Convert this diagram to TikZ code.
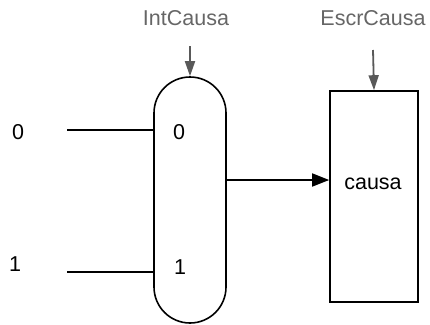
\documentclass[tikz,border=0pt]{standalone}
\usepackage{fontspec}
\setmainfont{Liberation Sans}
\usetikzlibrary{arrows.meta}

\tikzset{
  ctl/.style={text=black!60},
  ctlarrow/.style={black!65,line width=1.8pt,-{Triangle[length=15pt,width=10pt]}},
  wire/.style={line width=1.6pt},
}

\begin{document}
\begin{tikzpicture}[x=1pt,y=-1pt,font=\fontsize{21.5}{24}\selectfont]
  \useasboundingbox (0,0) rectangle (430,324);
  \node[draw,wire,rounded corners=36pt,minimum width=72pt,minimum height=246pt] (mux) at (190,200) {};
  \node[draw,wire,minimum width=88pt,minimum height=211pt] (reg) at (374,196.5) {};
  \node (reglbl) at (373,184) {causa};
  \node (lbl0) at (18,132) {0};
  \node (lbl1) at (15,264) {1};
  \node (mux0) at (179,132) {0};
  \node (mux1) at (180,267) {1};
  \coordinate (in0) at (67,130);
  \coordinate (in1) at (67,272);
  \coordinate (out) at (0,180);
  \draw[wire] (in0) -- (in0 -| mux.west);
  \draw[wire] (in1) -- (in1 -| mux.west);
  \draw[wire,-{Triangle[length=17pt,width=13pt]}] (mux.east |- out) -- (reg.west |- out);
  % control signals
  \node[ctl] (ictl) at (186,18) {IntCausa};
  \node[ctl] (ectl) at (373,18) {EscrCausa};
  \coordinate (ictlend) at (190,46);
  \coordinate (ectlend) at (373,50);
  \draw[ctlarrow] (ictlend) -- (mux.north);
  \draw[ctlarrow] (ectlend) -- (reg.north);
\end{tikzpicture}
\end{document}
